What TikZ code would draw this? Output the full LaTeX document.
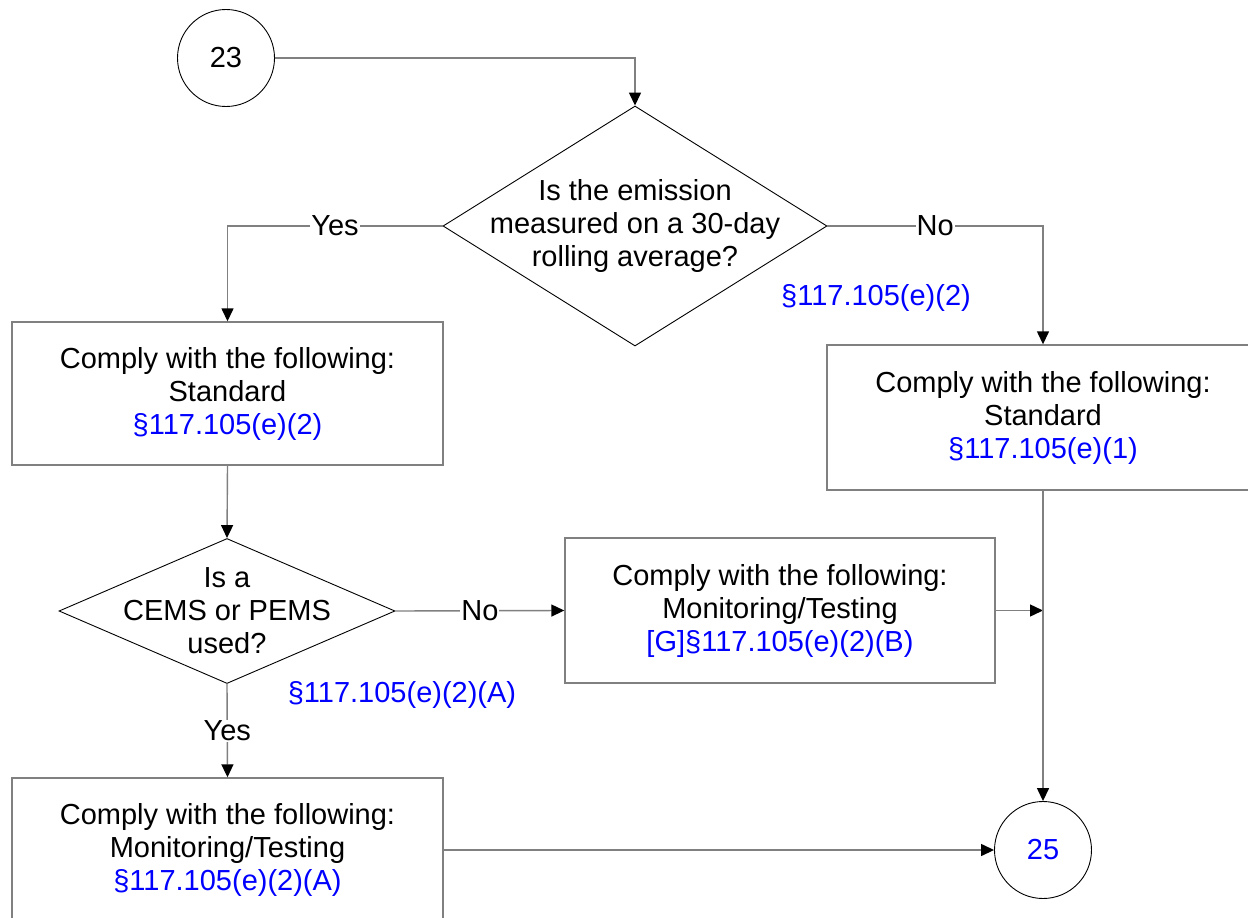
\documentclass[tikz,border=0pt]{standalone}
\usepackage{fontspec}
\setmainfont{Liberation Sans}
\usetikzlibrary{shapes.geometric,arrows.meta}
\definecolor{linegray}{RGB}{128,128,128}
\definecolor{refblue}{RGB}{0,0,255}
\begin{document}
\begin{tikzpicture}[x=1pt,y=-1pt,
  every node/.style={font=\fontsize{29}{33}\selectfont},
  conn/.style={draw=linegray,line width=1.4pt},
  arr/.style={conn,-{Triangle[length=13pt,width=12pt,color=black]}},
  stepbox/.style={draw=linegray,line width=1.4pt,rectangle,align=center,inner sep=0pt},
  decision/.style={draw=black,line width=0.9pt,diamond,inner sep=0pt},
  connector/.style={draw=black,line width=0.9pt,circle,inner sep=0pt,minimum size=97pt},
  lbl/.style={fill=white,inner sep=1pt},
  ref/.style={text=refblue}]
\useasboundingbox (0,0) rectangle (1248,918);
\clip (0,0) rectangle (1248,918);
% connectors (circles)
\node[connector] (c23) at (226,58) {23};
\node[connector,text=refblue] (c25) at (1043,850) {25};
% decisions
\node[decision,minimum width=384pt,minimum height=240pt] (d1) at (635,226) {};
\node[align=center,inner sep=0pt] (d1t) at (635,226) {Is the emission\\measured on a 30-day\\rolling average?};
\node[decision,minimum width=336pt,minimum height=145pt] (d2) at (227,611) {};
\node[align=center,inner sep=0pt] (d2t) at (227,611) {Is a\\CEMS or PEMS\\used?};
% boxes
\node[stepbox,minimum width=431pt,minimum height=143pt] (b1) at (227.5,393.5)
  {Comply with the following:\\Standard\\\textcolor{refblue}{\S117.105(e)(2)}};
\node[stepbox,minimum width=432pt,minimum height=145pt] (b2) at (1043,417.5)
  {Comply with the following:\\Standard\\\textcolor{refblue}{\S117.105(e)(1)}};
\node[stepbox,minimum width=430pt,minimum height=145pt] (b3) at (780,610.5)
  {Comply with the following:\\Monitoring/Testing\\\textcolor{refblue}{[G]\S117.105(e)(2)(B)}};
\node[stepbox,minimum width=431pt,minimum height=144pt] (b4) at (227.5,850)
  {Comply with the following:\\Monitoring/Testing\\\textcolor{refblue}{\S117.105(e)(2)(A)}};
% reference labels
\node[ref] (r1) at (876,298) {\S117.105(e)(2)};
\node[ref] (r2) at (402,695) {\S117.105(e)(2)(A)};
% flows
\draw[arr] (c23.east) -| (d1.north);
\draw[arr] (d1.west) -| node[lbl,pos=0.25] {Yes} (b1.north);
\draw[arr] (d1.east) -| node[lbl,pos=0.25] {No} (b2.north);
\draw[arr] (b1.south) -- (d2.north);
\draw[arr] (d2.east) -- node[lbl] {No} (b3.west);
\draw[arr] (d2.south) -- node[lbl] {Yes} (b4.north);
\draw[arr] (b3.east) -- (b3.east -| b2.south);
\draw[arr] (b2.south) -- (c25.north);
\draw[arr] (b4.east) -- (c25.west);
\end{tikzpicture}
\end{document}
